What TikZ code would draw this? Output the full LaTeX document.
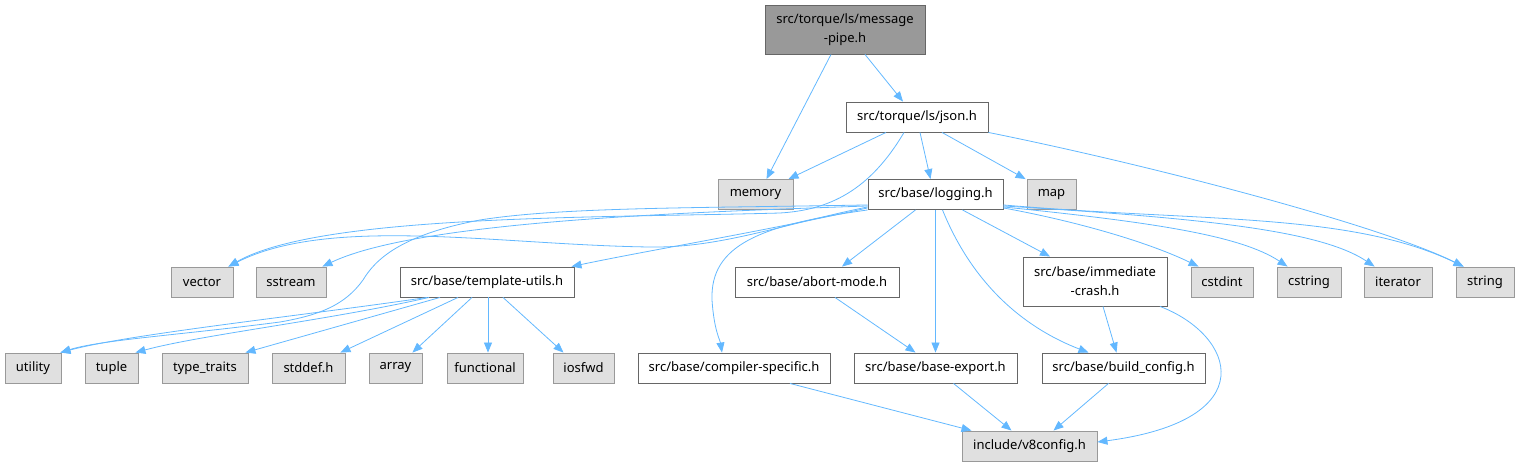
\documentclass[tikz,border=0pt]{standalone}
\usepackage{fontspec}
\setmainfont{Noto Sans}
\usetikzlibrary{arrows.meta}
\definecolor{edgeblue}{HTML}{63B8FF}
\definecolor{sysfill}{HTML}{E0E0E0}
\definecolor{sysborder}{HTML}{999999}
\definecolor{srcborder}{HTML}{666666}
\definecolor{rootfill}{HTML}{999999}
\begin{document}
\begin{tikzpicture}[x=1pt,y=-1pt,
  box/.style={line width=0.9pt, inner sep=0pt, minimum height=30pt, font=\fontsize{13}{19}\selectfont, align=center, anchor=center},
  sysbox/.style={box, fill=sysfill, draw=sysborder},
  srcbox/.style={box, fill=white, draw=srcborder},
  rootbox/.style={box, fill=rootfill, draw=srcborder, minimum height=49pt},
  dep/.style={draw=edgeblue, line width=0.8pt, -{Triangle[length=10pt,width=8pt]}}]
\useasboundingbox (0,0) rectangle (1519,467);

% rank 0,1
\node[rootbox, minimum width=160pt] (root) at (845,29.5) {src/torque/ls/message\\-pipe.h};
\node[srcbox, minimum width=142pt] (json) at (917,117) {src/torque/ls/json.h};
% rank 2
\node[sysbox, minimum width=75pt] (memory) at (755.5,194.5) {memory};
\node[srcbox, minimum width=135pt] (logging) at (935.5,194.5) {src/base/logging.h};
\node[sysbox, minimum width=49pt] (map) at (1051.5,194.5) {map};
% rank 3
\node[sysbox, minimum width=62pt] (vector) at (202,282) {vector};
\node[sysbox, minimum width=70pt] (sstream) at (291,282) {sstream};
\node[srcbox, minimum width=174pt] (tmpl) at (487,282) {src/base/template-utils.h};
\node[srcbox, minimum width=164pt] (abort) at (817,282) {src/base/abort-mode.h};
\node[srcbox, minimum width=144pt, minimum height=49pt] (imm) at (1095,281.5) {src/base/immediate\\-crash.h};
\node[sysbox, minimum width=62pt] (cstdint) at (1222,282) {cstdint};
\node[sysbox, minimum width=64pt] (cstring) at (1309,282) {cstring};
\node[sysbox, minimum width=68pt] (iterator) at (1398,282) {iterator};
\node[sysbox, minimum width=58pt] (string) at (1485,282) {string};
% rank 4
\node[sysbox, minimum width=56pt] (utility) at (33,368) {utility};
\node[sysbox, minimum width=53pt] (tuple) at (111.5,368) {tuple};
\node[sysbox, minimum width=86pt] (typetraits) at (205,368) {type\_traits};
\node[sysbox, minimum width=73pt] (stddef) at (308.5,368) {stddef.h};
\node[sysbox, minimum width=53pt] (array) at (395.5,368) {array};
\node[sysbox, minimum width=76pt] (functional) at (485,368) {functional};
\node[sysbox, minimum width=61pt] (iosfwd) at (583.5,368) {iosfwd};
\node[srcbox, minimum width=192pt] (compiler) at (734,368) {src/base/compiler-specific.h};
\node[srcbox, minimum width=163pt] (baseexport) at (935.5,368) {src/base/base-export.h};
\node[srcbox, minimum width=163pt] (buildcfg) at (1123.5,368) {src/base/build\_config.h};
% rank 5
\node[sysbox, minimum width=135pt] (v8config) at (1029.5,446) {include/v8config.h};

% root
\draw[dep] ([xshift=-14pt]root.south) -- ([xshift=11pt]memory.north);
\draw[dep] ([xshift=20pt]root.south) -- ([xshift=-14pt]json.north);
% json
\draw[dep] ([xshift=-31pt]json.south) -- ([xshift=33pt]memory.north);
\draw[dep] ([xshift=3pt]json.south) -- ([xshift=-5pt]logging.north);
\draw[dep] ([xshift=25pt]json.south) -- ([xshift=-1pt]map.north west);
\draw[dep] (json.south east) .. controls (1150,165) and (1380,225) .. ([xshift=8pt]string.north west);
\draw[dep] ([xshift=-13pt]json.south) .. controls (870,190) and (830,210) .. (780,213)
  .. controls (600,218) and (320,214) .. ([xshift=-5pt]vector.north east);
% logging, to the left
\draw[dep] ([yshift=3pt]logging.south west) .. controls (780,225) and (720,248) .. (650,247)
  .. controls (500,245) and (330,215) .. ([xshift=-5pt]vector.north east);
\draw[dep] ([yshift=4pt]logging.south west) .. controls (700,212) and (420,220) .. ([xshift=-4pt]sstream.north east);
\draw[dep] ([yshift=5pt]logging.south west) .. controls (700,208) and (560,207) .. (480,220)
  .. controls (400,235) and (375,260) .. (363,280)
  .. controls (345,305) and (320,315) .. (280,322)
  .. controls (180,335) and (100,340) .. ([xshift=-1pt]utility.north east);
\draw[dep] ([yshift=2pt]logging.south west) .. controls (760,232) and (650,250) .. ([xshift=-3pt]tmpl.north east);
\draw[dep] (logging.south west) .. controls (760,225) and (710,245) .. (712,300)
  .. controls (714,330) and (720,340) .. ([xshift=-12pt]compiler.north);
% logging, downwards
\draw[dep] ([xshift=-20pt]logging.south) -- ([xshift=25pt]abort.north);
\draw[dep] (logging.south) -- (baseexport.north);
\draw[dep] ([xshift=7pt]logging.south) .. controls (975,290) and (1030,330) .. ([xshift=-35pt]buildcfg.north);
\draw[dep] ([xshift=27pt]logging.south) -- ([xshift=-45pt]imm.north);
% logging, to the right
\draw[dep] ([yshift=2pt]logging.south east) .. controls (1080,222) and (1150,243) .. ([xshift=8pt]cstdint.north west);
\draw[dep] ([yshift=3pt]logging.south east) .. controls (1150,222) and (1240,235) .. ([xshift=11pt]cstring.north west);
\draw[dep] ([yshift=4pt]logging.south east) .. controls (1200,218) and (1320,230) .. ([xshift=11pt]iterator.north west);
\draw[dep] ([yshift=5pt]logging.south east) .. controls (1200,222) and (1350,212) .. ([xshift=8pt]string.north west);
% immediate-crash
\draw[dep] ([xshift=8pt]imm.south) -- ([xshift=-7pt]buildcfg.north);
\draw[dep] ([xshift=65pt]imm.south) .. controls (1235,335) and (1265,420) .. ([yshift=4pt]v8config.east);
% others
\draw[dep] ([xshift=18pt]abort.south) -- ([xshift=-20pt]baseexport.north);
\draw[dep] ([xshift=56pt]compiler.south) -- ([xshift=-58pt]v8config.north);
\draw[dep] ([xshift=18pt]baseexport.south) -- ([xshift=-18pt]v8config.north);
\draw[dep] ([xshift=-15pt]buildcfg.south) -- ([xshift=24pt]v8config.north);
% template-utils
\draw[dep] ([xshift=-60pt]tmpl.south) .. controls (300,316) and (130,334) .. ([xshift=-1pt]utility.north east);
\draw[dep] ([xshift=-58pt]tmpl.south) .. controls (330,320) and (200,335) .. ([xshift=-3pt]tuple.north east);
\draw[dep] ([xshift=-47pt]tmpl.south) -- ([xshift=-3pt]typetraits.north east);
\draw[dep] ([xshift=-29pt]tmpl.south) -- ([xshift=-5pt]stddef.north east);
\draw[dep] ([xshift=-15pt]tmpl.south) -- ([xshift=-10pt]array.north east);
\draw[dep] ([xshift=1pt]tmpl.south) -- ([xshift=3pt]functional.north);
\draw[dep] ([xshift=16pt]tmpl.south) -- ([xshift=-20pt]iosfwd.north);
\end{tikzpicture}
\end{document}
